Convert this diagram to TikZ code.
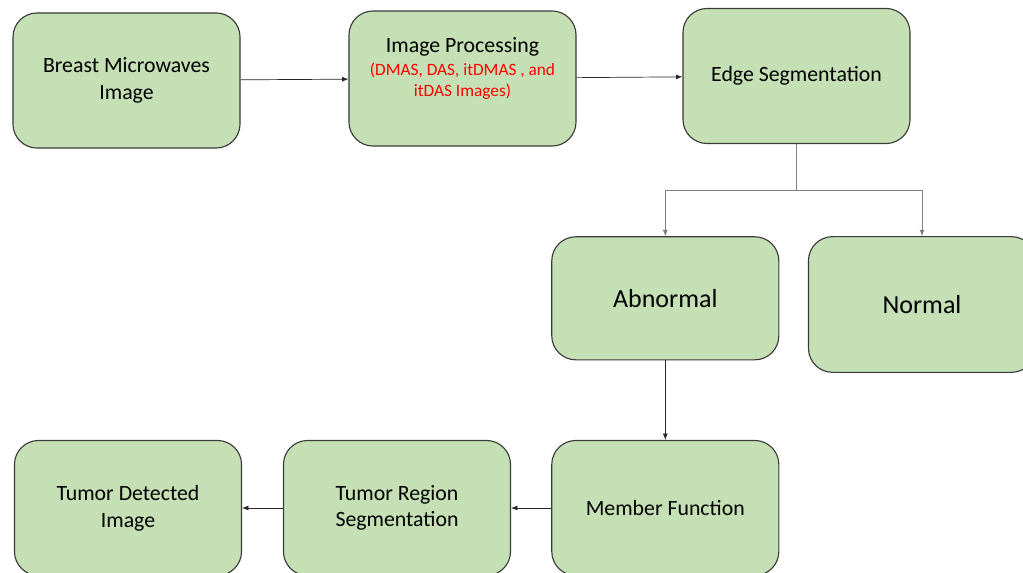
\documentclass[tikz,border=0pt]{standalone}
\usepackage{fontspec}
\setmainfont{Carlito}
\usepackage{xcolor}
\usepackage{tikz}
\usetikzlibrary{arrows.meta}
\definecolor{boxgreen}{HTML}{C5E0B4}
\definecolor{boxline}{HTML}{3A3A3A}
\definecolor{linkgray}{HTML}{7F7F7F}

\begin{document}
\begin{tikzpicture}[x=0.025cm,y=-0.025cm]
      \useasboundingbox (0,0) rectangle (1023,572);
      \clip (0,0) rectangle (1023,572);
      \begin{scope}[font=\fontsize{15.5}{19}\selectfont,
          stage/.style={draw=boxline, line width=0.8pt, fill=boxgreen, rounded corners=0.6cm,
            minimum width=5.675cm, minimum height=3.375cm, align=center},
          link/.style={draw=black!85, line width=0.5pt, -{Latex[length=4.5pt,width=3.5pt]}},
          branch/.style={link, draw=linkgray}]
        \node[stage] (breast) at (126.5,80.5) {Breast Microwaves\\Image};
        \node[stage] (proc) at (462.5,78.5) {};
        \node[align=center] (proctext) at (462.5,68.5) {Image Processing\\[-3pt]
          \textcolor{red}{\fontsize{12.3}{14.7}\selectfont (DMAS, DAS, itDMAS , and}\\[-4pt]
          \textcolor{red}{\fontsize{12.3}{14.7}\selectfont itDAS Images)}};
        \node[stage] (edge) at (796.5,76) {Edge Segmentation};

        \node[stage, minimum height=3.075cm, font=\fontsize{18.5}{22}\selectfont] (abn) at (665.3,298.3) {Abnormal};
        \node[stage, minimum height=3.39cm, font=\fontsize{18.5}{22}\selectfont] (normal) at (922,304.5) {Normal};

        \node[stage] (member) at (665.3,508) {Member Function};
        \node[stage] (region) at (397,508) {Tumor Region\\Segmentation};
        \node[stage] (detected) at (128,508) {Tumor Detected\\Image};

        \coordinate (split) at (796.5,190);
        \foreach \t in {abn,normal}{
          \draw[branch] (edge.south) -- (split) -| (\t.north);
        }
        \foreach \a/\b in {breast/proc,proc/edge,abn/member,member/region,region/detected}{
          \draw[link] (\a) -- (\b);
        }
      \end{scope}
    \end{tikzpicture}
\end{document}
